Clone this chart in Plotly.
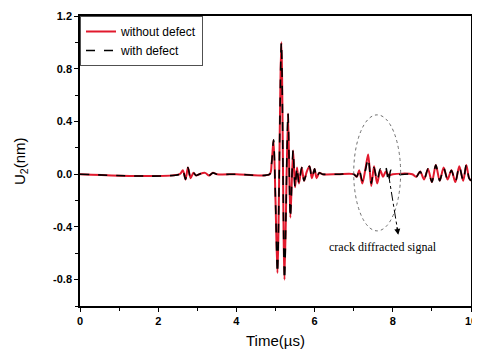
import plotly.graph_objects as go

# Key points (peaks/troughs), time in µs, U2 in nm
t_without = [0, 2.55, 2.63, 2.70, 2.76, 2.83, 2.90, 2.97, 3.05, 3.2, 3.3, 3.4, 3.5, 4.0, 4.85,
             4.90, 4.95, 5.00, 5.05, 5.15, 5.23, 5.32, 5.38, 5.45, 5.50, 5.55, 5.60, 5.67,
             5.73, 5.80, 5.87, 5.93, 6.00, 6.05, 6.12, 6.2, 6.6, 7.0, 7.08, 7.14, 7.22,
             7.30, 7.37, 7.45, 7.52, 7.60, 7.68, 7.75, 7.82, 7.90, 8.0, 8.5, 8.6, 8.7,
             8.8, 8.9, 9.0, 9.1, 9.2, 9.3, 9.4, 9.5, 9.6, 9.7, 9.8, 9.88, 9.95, 10.0]
u_without = [0, 0, 0.03, -0.04, 0.05, -0.03, 0.01, -0.01, 0, 0.01, -0.01, 0.01, 0, 0, 0,
             0.08, 0.26, -0.2, -0.75, 1.0, -0.8, 0.46, -0.33, 0.18, -0.1, 0.05, -0.07, 0.05,
             -0.05, 0.02, 0.06, -0.03, 0.04, -0.03, 0.01, 0, 0, 0, -0.02, 0.03, -0.07,
             0.04, 0.15, -0.09, 0.06, -0.07, 0.03, -0.02, 0.02, -0.01, 0, 0, -0.02, 0.02,
             -0.04, 0.04, -0.06, 0.07, -0.05, 0.05, -0.04, 0.03, -0.06, 0.06, -0.05, 0.07, -0.03, -0.05]

t_with = [0, 2.55, 2.63, 2.70, 2.76, 2.83, 2.90, 2.97, 3.05, 3.2, 3.3, 3.4, 3.5, 4.0, 4.85,
          4.90, 4.95, 5.00, 5.05, 5.15, 5.23, 5.32, 5.38, 5.45, 5.50, 5.55, 5.60, 5.67,
          5.73, 5.80, 5.87, 5.93, 6.00, 6.05, 6.12, 6.2, 6.6, 7.0, 7.08, 7.14, 7.22,
          7.30, 7.37, 7.45, 7.52, 7.60, 7.68, 7.75, 7.82, 7.89, 7.95, 8.02, 8.1, 8.5, 8.6, 8.7,
          8.8, 8.9, 9.0, 9.1, 9.2, 9.3, 9.4, 9.5, 9.6, 9.7, 9.8, 9.88, 9.95, 10.0]
u_with = [0, 0, 0.03, -0.04, 0.05, -0.03, 0.01, -0.01, 0, 0.01, -0.01, 0.01, 0, 0, 0,
          0.08, 0.26, -0.2, -0.75, 1.0, -0.8, 0.46, -0.33, 0.18, -0.1, 0.05, -0.07, 0.05,
          -0.05, 0.02, 0.06, -0.03, 0.04, -0.03, 0.01, 0, 0, 0, -0.02, 0.04, -0.05,
          0.03, 0.12, -0.07, 0.05, -0.05, 0.04, 0.02, 0.05, -0.06, 0.03, 0.02, 0, 0, -0.02, 0.02,
          -0.04, 0.04, -0.06, 0.07, -0.05, 0.05, -0.04, 0.03, -0.06, 0.06, -0.05, 0.07, -0.03, -0.05]

x_ticks = [0, 2, 4, 6, 8, 10]
y_ticks = [-0.8, -0.4, 0.0, 0.4, 0.8, 1.2]
y_tick_labels = ["-0.8", "-0.4", "0.0", "0.4", "0.8", "1.2"]

fig = go.Figure()
fig.add_trace(go.Scatter(x=t_without, y=u_without, mode="lines", name="without defect",
                         line=dict(color="rgb(225,25,45)", width=2, shape="spline", smoothing=0.8)))
fig.add_trace(go.Scatter(x=t_with, y=u_with, mode="lines", name="with defect",
                         line=dict(color="black", width=1.6, dash="dash", shape="spline", smoothing=0.8)))

# dotted ellipse marking the crack diffracted region
fig.add_shape(type="circle", xref="x", yref="y", x0=7.0, x1=8.2, y0=-0.43, y1=0.45,
              line=dict(color="rgb(110,110,110)", width=1, dash="dot"))
# dash-dot arrow shaft + head
fig.add_shape(type="line", xref="x", yref="y", x0=7.89, y0=0.0, x1=8.13, y1=-0.44,
              line=dict(color="black", width=1, dash="dashdot"))
fig.add_annotation(x=8.14, y=-0.46, ax=-1.5, ay=-9, xref="x", yref="y",
                   showarrow=True, arrowhead=2, arrowsize=1, arrowwidth=1.2, arrowcolor="black", text="")
fig.add_annotation(x=7.76, y=-0.555, xref="x", yref="y", text="crack diffracted signal",
                   showarrow=False, font=dict(family="Liberation Serif", size=12, color="black"))

# axis titles
fig.add_annotation(x=0.5, y=0, xref="paper", yref="paper", yshift=-34, text="Time(µs)",
                   showarrow=False, xanchor="center", yanchor="middle",
                   font=dict(family="Liberation Sans", size=15, color="black"))
fig.add_annotation(x=0, y=0.5, xref="paper", yref="paper", xshift=-60, text="U<sub>2</sub>(nm)",
                   showarrow=False, xanchor="center", yanchor="middle", textangle=-90,
                   font=dict(family="Liberation Sans", size=15, color="black"))

axis_common = dict(showline=True, linecolor="black", linewidth=1.5, mirror=True,
                   ticks="outside", ticklen=4, tickwidth=1.2, tickcolor="black",
                   showgrid=False, zeroline=False, automargin=False, ticklabeloverflow="allow",
                   tickfont=dict(family="Liberation Sans", size=11, color="black", weight="bold"))

fig.update_xaxes(range=[0, 10], tickvals=x_ticks,
                 minor=dict(ticks="outside", ticklen=3, tickcolor="black", dtick=1),
                 **axis_common)
fig.update_yaxes(range=[-1.0, 1.2], tickvals=y_ticks, ticktext=y_tick_labels,
                 minor=dict(ticks="outside", ticklen=3, tickcolor="black", tickvals=[-1.0, -0.6, -0.2, 0.2, 0.6, 1.0]),
                 **axis_common)

# page shows the figure offset by ~8px, so size/margins compensate
fig.update_layout(width=472, height=345, margin=dict(l=72, r=9, t=8, b=47),
                  paper_bgcolor="white", plot_bgcolor="white", showlegend=True,
                  legend=dict(x=0, y=1, xanchor="left", yanchor="top", bgcolor="white",
                              bordercolor="rgb(80,80,80)", borderwidth=1,
                              font=dict(family="Liberation Sans", size=12, color="black"),
                              tracegroupgap=0, itemwidth=30))

fig.write_html("out.html")
